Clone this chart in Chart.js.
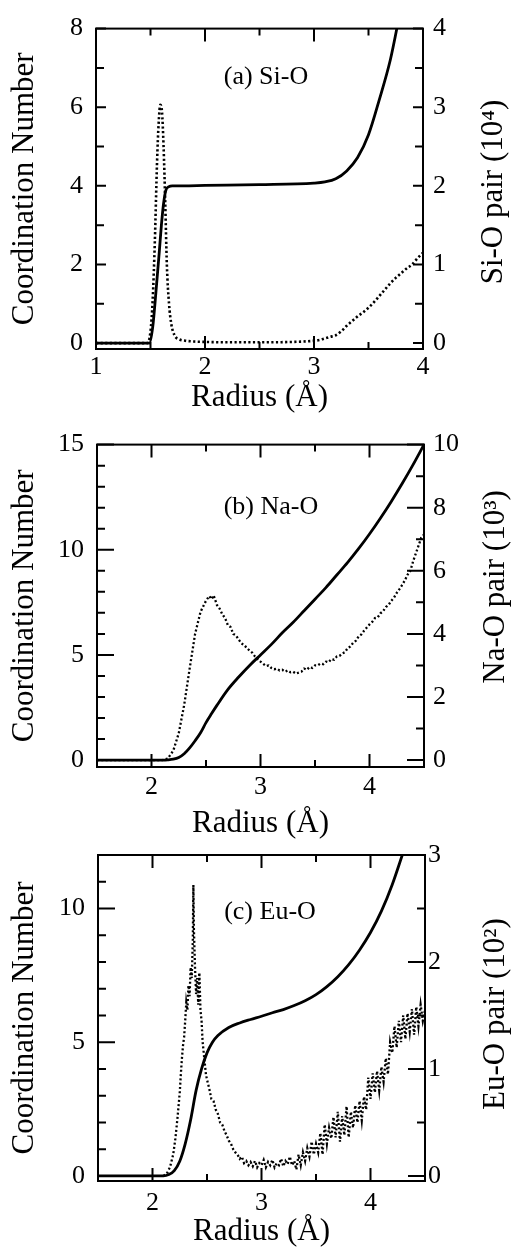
<!DOCTYPE html>
<html><head><meta charset="utf-8">
<script src="https://cdn.jsdelivr.net/npm/chart.js@4.4.1/dist/chart.umd.min.js"></script>
<style>
html,body{margin:0;padding:0;background:#fff;}
#wrap{position:relative;width:512px;height:1250px;overflow:hidden;background:#fff;}
canvas{position:absolute;left:0;}
</style></head><body>
<div id="wrap">
<canvas id="ca" width="512" height="416" style="top:0px;width:512px;height:416px"></canvas>
<canvas id="cb" width="512" height="426" style="top:416px;width:512px;height:426px"></canvas>
<canvas id="cc" width="512" height="425" style="top:825px;width:512px;height:425px"></canvas>
</div>
<script>
// ---------- Panel (a) Si-O ----------
const aRadiusCN = [1.0, 1.49, 1.52, 1.55, 1.58, 1.6, 1.62, 1.64, 1.67, 1.7, 1.8, 2.0, 2.5, 3.0, 3.1, 3.2, 3.3, 3.4, 3.5, 3.6, 3.7, 3.76, 3.8];
const aCN       = [0, 0, 0.4, 1.3, 2.3, 3.0, 3.55, 3.88, 3.98, 4.0, 4.0, 4.01, 4.03, 4.07, 4.1, 4.18, 4.38, 4.72, 5.3, 6.2, 7.2, 8.0, 8.6];
const aRadiusPair = [1.0, 1.47, 1.5, 1.52, 1.54, 1.56, 1.575, 1.59, 1.605, 1.62, 1.635, 1.65, 1.67, 1.69, 1.72, 1.76, 1.82, 1.9, 2.0, 2.2, 2.4, 2.6, 2.8, 2.9, 3.0, 3.05, 3.1, 3.15, 3.2, 3.25, 3.3, 3.35, 3.4, 3.45, 3.5, 3.55, 3.6, 3.65, 3.7, 3.75, 3.8, 3.85, 3.9, 3.95, 4.0];
const aPair       = [0, 0, 0.15, 0.55, 1.3, 2.3, 2.8, 3.03, 2.95, 2.5, 1.8, 1.0, 0.5, 0.25, 0.1, 0.05, 0.03, 0.02, 0.015, 0.01, 0.01, 0.01, 0.015, 0.02, 0.03, 0.04, 0.06, 0.08, 0.1, 0.15, 0.22, 0.28, 0.34, 0.39, 0.45, 0.52, 0.6, 0.68, 0.76, 0.83, 0.89, 0.95, 1.0, 1.08, 1.15];
const aXTicks = [1, 2, 3, 4], aXMinor = [1.5, 2.5, 3.5];
const aYTicks = [0, 2, 4, 6, 8], aYMinor = [1, 3, 5, 7];
const aY1Ticks = [0, 1, 2, 3, 4], aY1Minor = [0.5, 1.5, 2.5, 3.5];

// ---------- Panel (b) Na-O ----------
const bRadiusCN = [1.5, 2.1, 2.15, 2.2, 2.25, 2.3, 2.35, 2.4, 2.45, 2.5, 2.55, 2.6, 2.7, 2.8, 2.9, 3.0, 3.1, 3.2, 3.3, 3.4, 3.5, 3.6, 3.7, 3.8, 3.9, 4.0, 4.1, 4.2, 4.3, 4.4, 4.5];
const bCN       = [0, 0, 0.01, 0.04, 0.12, 0.3, 0.58, 0.92, 1.3, 1.78, 2.2, 2.6, 3.35, 3.95, 4.5, 5.0, 5.5, 6.05, 6.55, 7.1, 7.65, 8.2, 8.8, 9.4, 10.05, 10.75, 11.5, 12.3, 13.15, 14.05, 15.0];
const bRadiusPair = [1.5, 2.1, 2.15, 2.2, 2.25, 2.3, 2.35, 2.4, 2.45, 2.5, 2.53, 2.55, 2.57, 2.6, 2.625, 2.65, 2.675, 2.7, 2.725, 2.75, 2.775, 2.8, 2.825, 2.85, 2.875, 2.9, 2.925, 2.95, 2.975, 3.0, 3.025, 3.05, 3.075, 3.1, 3.125, 3.15, 3.175, 3.2, 3.225, 3.25, 3.275, 3.3, 3.325, 3.35, 3.375, 3.4, 3.425, 3.45, 3.475, 3.5, 3.525, 3.55, 3.575, 3.6, 3.625, 3.65, 3.675, 3.7, 3.725, 3.75, 3.775, 3.8, 3.825, 3.85, 3.875, 3.9, 3.925, 3.95, 3.975, 4.0, 4.025, 4.05, 4.075, 4.1, 4.125, 4.15, 4.175, 4.2, 4.225, 4.25, 4.275, 4.3, 4.325, 4.35, 4.375, 4.4, 4.425, 4.45, 4.475, 4.5];
const bPair       = [0, 0, 0.05, 0.3, 0.85, 1.75, 2.9, 4.0, 4.7, 5.05, 5.2, 5.1, 5.22, 4.92, 4.8, 4.62, 4.5, 4.28, 4.22, 4.0, 3.95, 3.82, 3.7, 3.65, 3.55, 3.47, 3.4, 3.28, 3.2, 3.12, 3.05, 2.98, 3.0, 2.92, 2.88, 2.9, 2.84, 2.86, 2.8, 2.84, 2.78, 2.8, 2.74, 2.77, 2.8, 2.9, 2.86, 2.95, 2.92, 3.0, 3.0, 3.06, 3.04, 3.12, 3.1, 3.2, 3.18, 3.28, 3.3, 3.38, 3.42, 3.55, 3.6, 3.72, 3.78, 3.92, 3.98, 4.1, 4.2, 4.3, 4.38, 4.5, 4.52, 4.65, 4.72, 4.85, 4.92, 5.05, 5.15, 5.3, 5.42, 5.55, 5.7, 5.88, 6.0, 6.3, 6.55, 6.8, 7.05, 7.15];
const bXTicks = [2, 3, 4], bXMinor = [2.5, 3.5];
const bYTicks = [0, 5, 10, 15], bYMinor = [1, 2, 3, 4, 6, 7, 8, 9, 11, 12, 13, 14];
const bY1Ticks = [0, 2, 4, 6, 8, 10], bY1Minor = [1, 3, 5, 7, 9];

// ---------- Panel (c) Eu-O ----------
const cRadiusCN = [1.5, 2.1, 2.15, 2.2, 2.25, 2.3, 2.35, 2.4, 2.45, 2.5, 2.55, 2.6, 2.7, 2.8, 2.9, 3.0, 3.1, 3.2, 3.3, 3.4, 3.5, 3.6, 3.7, 3.8, 3.9, 4.0, 4.1, 4.2, 4.3];
const cCN       = [0, 0, 0.05, 0.2, 0.55, 1.2, 2.1, 3.2, 4.0, 4.6, 5.0, 5.25, 5.55, 5.72, 5.85, 5.97, 6.1, 6.22, 6.37, 6.55, 6.78, 7.08, 7.45, 7.9, 8.45, 9.1, 9.9, 10.9, 12.1];
const cRadiusPair = [2.10, 2.13, 2.16, 2.19, 2.21, 2.23, 2.25, 2.26, 2.27, 2.28, 2.29, 2.30, 2.31, 2.32, 2.33, 2.34, 2.35, 2.36, 2.37, 2.375, 2.38, 2.39, 2.40, 2.41, 2.42, 2.43, 2.44, 2.45, 2.46, 2.47, 2.48, 2.49, 2.50, 2.52, 2.54, 2.56, 2.58, 2.60, 2.62, 2.64, 2.66, 2.68, 2.70, 2.72, 2.74, 2.76, 2.78, 2.80, 2.82, 2.84, 2.86, 2.88, 2.90, 2.92, 2.94, 2.96, 2.98, 3.00, 3.02, 3.04, 3.06, 3.08, 3.10, 3.12, 3.14, 3.16, 3.18, 3.20, 3.22, 3.24, 3.26, 3.28, 3.30, 3.32, 3.34, 3.36, 3.38, 3.40, 3.42, 3.44, 3.46, 3.48, 3.50, 3.52, 3.54, 3.56, 3.58, 3.60, 3.62, 3.64, 3.66, 3.68, 3.70, 3.72, 3.74, 3.76, 3.78, 3.80, 3.82, 3.84, 3.86, 3.88, 3.90, 3.92, 3.94, 3.96, 3.98, 4.00, 4.02, 4.04, 4.06, 4.08, 4.10, 4.12, 4.14, 4.16, 4.18, 4.20, 4.22, 4.24, 4.26, 4.28, 4.30, 4.32, 4.34, 4.36, 4.38, 4.40, 4.42, 4.44, 4.46, 4.48, 4.50];
const cPair       = [0.00, 0.02, 0.08, 0.2, 0.35, 0.55, 0.78, 0.95, 1.1, 1.22, 1.3, 1.45, 1.62, 1.55, 1.78, 1.68, 1.95, 1.85, 2.2, 2.72, 2.3, 1.95, 1.7, 1.85, 1.6, 1.9, 1.55, 1.45, 1.25, 1.15, 1.05, 0.95, 0.9, 0.82, 0.72, 0.7, 0.62, 0.58, 0.5, 0.48, 0.42, 0.38, 0.33, 0.3, 0.25, 0.22, 0.2, 0.16, 0.18, 0.12, 0.14, 0.1, 0.13, 0.09, 0.14, 0.08, 0.12, 0.1, 0.15, 0.08, 0.13, 0.1, 0.15, 0.08, 0.12, 0.1, 0.16, 0.09, 0.14, 0.11, 0.18, 0.1, 0.14, 0.06, 0.2, 0.1, 0.22, 0.14, 0.26, 0.18, 0.32, 0.2, 0.3, 0.22, 0.4, 0.2, 0.48, 0.3, 0.45, 0.35, 0.55, 0.36, 0.6, 0.32, 0.56, 0.38, 0.65, 0.36, 0.6, 0.45, 0.66, 0.5, 0.7, 0.52, 0.74, 0.62, 0.92, 0.72, 0.96, 0.78, 0.98, 0.8, 1.02, 0.88, 1.1, 0.95, 1.25, 1.15, 1.4, 1.2, 1.45, 1.25, 1.5, 1.28, 1.52, 1.35, 1.56, 1.32, 1.58, 1.4, 1.6, 1.45, 1.55];
const cXTicks = [2, 3, 4], cXMinor = [2.5, 3.5];
const cYTicks = [0, 5, 10], cYMinor = [1, 2, 3, 4, 6, 7, 8, 9, 11];
const cY1Ticks = [0, 1, 2, 3], cY1Minor = [0.5, 1.5, 2.5];

const FONT = '"Liberation Serif", serif';

function pts(xs, ys) { return xs.map((x, i) => ({x: x, y: ys[i]})); }

const frameTicks = {
  id: 'frameTicks',
  afterDatasetsDraw(chart) {
    const o = chart.options.plugins.frameTicks;
    const ctx = chart.ctx;
    const {left, right, top, bottom} = chart.chartArea;
    const sx = chart.scales.x, sy = chart.scales.y, sy1 = chart.scales.y1;
    ctx.save();
    ctx.setLineDash([]);
    ctx.strokeStyle = '#000';
    ctx.lineWidth = 2;
    ctx.lineCap = 'butt';
    ctx.beginPath();
    const xt = (vals, len) => vals.forEach(v => {
      const p = sx.getPixelForValue(v);
      ctx.moveTo(p, bottom); ctx.lineTo(p, bottom - len);
      ctx.moveTo(p, top); ctx.lineTo(p, top + len);
    });
    xt(o.xMajor, o.xLen[0]); xt(o.xMinor, o.xLen[1]);
    const yl = (vals, len) => vals.forEach(v => {
      const p = sy.getPixelForValue(v);
      ctx.moveTo(left, p); ctx.lineTo(left + len, p);
    });
    yl(o.yMajor, o.yLen[0]); yl(o.yMinor, o.yLen[1]);
    const yr = (vals, len) => vals.forEach(v => {
      const p = sy1.getPixelForValue(v);
      ctx.moveTo(right, p); ctx.lineTo(right - len, p);
    });
    yr(o.y1Major, o.yLen[0]); yr(o.y1Minor, o.yLen[1]);
    ctx.stroke();
    ctx.strokeRect(left, top, right - left, bottom - top);
    // panel label
    ctx.fillStyle = '#000';
    ctx.font = '26px "Liberation Serif"';
    ctx.textAlign = 'center';
    ctx.textBaseline = 'middle';
    ctx.fillText(o.label, o.labelX, o.labelY);
    // right axis title (reads bottom to top)
    ctx.font = '31px "Liberation Serif"';
    ctx.translate(o.rtX, o.rtY);
    ctx.rotate(-Math.PI / 2);
    ctx.fillText(o.rightTitle, 0, 0);
    ctx.restore();
  }
};

function makeChart(id, d) {
  const tickFont = {family: FONT, size: 26};
  return new Chart(document.getElementById(id), {
    type: 'line',
    data: {
      datasets: [
        {data: pts(d.cnR, d.cn), yAxisID: 'y', borderColor: '#000', borderWidth: 2.8,
         pointRadius: 0, cubicInterpolationMode: 'monotone', fill: false},
        {data: pts(d.pairR, d.pair), yAxisID: 'y1', borderColor: '#000', borderWidth: d.dotW,
         borderDash: d.dash, pointRadius: 0, tension: 0,
         cubicInterpolationMode: d.smoothPair ? 'monotone' : 'default', fill: false}
      ]
    },
    options: {
      responsive: false, animation: false, events: [],
      layout: {padding: {top: d.padTop, left: 0, right: 0, bottom: 0}},
      plugins: {legend: {display: false}, tooltip: {enabled: false}, frameTicks: d.ft},
      scales: {
        x: {type: 'linear', position: 'bottom', min: d.xMin, max: d.xMax,
            grid: {display: false, drawTicks: false}, border: {display: false},
            ticks: {font: tickFont, color: '#000', padding: d.xPad, maxRotation: 0},
            afterBuildTicks: s => { s.ticks = d.xTicks.map(v => ({value: v})); },
            afterFit: s => { s.height = d.xH; },
            title: {display: true, text: 'Radius (Å)', color: '#000',
                    font: {family: FONT, size: 31}, padding: {top: 0, bottom: 0}}},
        y: {type: 'linear', position: 'left', min: d.yMin, max: d.yMax,
            grid: {display: false, drawTicks: false}, border: {display: false},
            ticks: {font: tickFont, color: '#000', padding: 13},
            afterBuildTicks: s => { s.ticks = d.yTicks.map(v => ({value: v})); },
            afterFit: s => { s.width = d.leftW; },
            title: {display: true, text: 'Coordination Number', color: '#000',
                    font: {family: FONT, size: 31}, padding: {top: 6, bottom: 0}}},
        y1: {type: 'linear', position: 'right', min: d.y1Min, max: d.y1Max,
            grid: {display: false, drawTicks: false}, border: {display: false},
            ticks: {font: tickFont, color: '#000', padding: d.y1Pad},
            afterBuildTicks: s => { s.ticks = d.y1Ticks.map(v => ({value: v})); },
            afterFit: s => { s.width = d.rightW; }}
      }
    },
    plugins: [frameTicks]
  });
}

makeChart('ca', {
  cnR: aRadiusCN, cn: aCN, pairR: aRadiusPair, pair: aPair, smoothPair: true,
  dotW: 2.6, dash: [2.2, 2.4],
  padTop: 23, xH: 67, leftW: 96, rightW: 89, xPad: 3, y1Pad: 10,
  xMin: 1, xMax: 4, xTicks: aXTicks,
  yMin: -0.15, yMax: 8, yTicks: aYTicks,
  y1Min: -0.075, y1Max: 4, y1Ticks: aY1Ticks,
  ft: {xMajor: aXTicks, xMinor: aXMinor, yMajor: aYTicks, yMinor: aYMinor,
       y1Major: aY1Ticks, y1Minor: aY1Minor, xLen: [13, 7], yLen: [10, 8],
       label: '(a) Si-O', labelX: 266, labelY: 77,
       rightTitle: 'Si-O pair (10⁴)', rtX: 494, rtY: 192}
});

makeChart('cb', {
  cnR: bRadiusCN, cn: bCN, pairR: bRadiusPair, pair: bPair, smoothPair: false,
  dotW: 2.3, dash: [2, 2.3],
  padTop: 24, xH: 75, leftW: 97, rightW: 88, xPad: 5, y1Pad: 9,
  xMin: 1.5, xMax: 4.5, xTicks: bXTicks,
  yMin: -0.33, yMax: 15, yTicks: bYTicks,
  y1Min: -0.22, y1Max: 10, y1Ticks: bY1Ticks,
  ft: {xMajor: bXTicks, xMinor: bXMinor, yMajor: bYTicks, yMinor: bYMinor,
       y1Major: bY1Ticks, y1Minor: bY1Minor, xLen: [13, 7], yLen: [17, 8],
       label: '(b) Na-O', labelX: 271, labelY: 91,
       rightTitle: 'Na-O pair (10³)', rtX: 496, rtY: 171}
});

makeChart('cc', {
  cnR: cRadiusCN, cn: cCN, pairR: cRadiusPair, pair: cPair, smoothPair: false,
  dotW: 2.3, dash: [2, 2.3],
  padTop: 30, xH: 69, leftW: 98, rightW: 87, xPad: 7, y1Pad: 3,
  xMin: 1.5, xMax: 4.5, xTicks: cXTicks,
  yMin: -0.19, yMax: 12, yTicks: cYTicks,
  y1Min: -0.0475, y1Max: 3, y1Ticks: cY1Ticks,
  ft: {xMajor: cXTicks, xMinor: cXMinor, yMajor: cYTicks, yMinor: cYMinor,
       y1Major: cY1Ticks, y1Minor: cY1Minor, xLen: [13, 7], yLen: [17, 8],
       label: '(c) Eu-O', labelX: 270, labelY: 87,
       rightTitle: 'Eu-O pair (10²)', rtX: 496, rtY: 189}
});
</script>
</body></html>
